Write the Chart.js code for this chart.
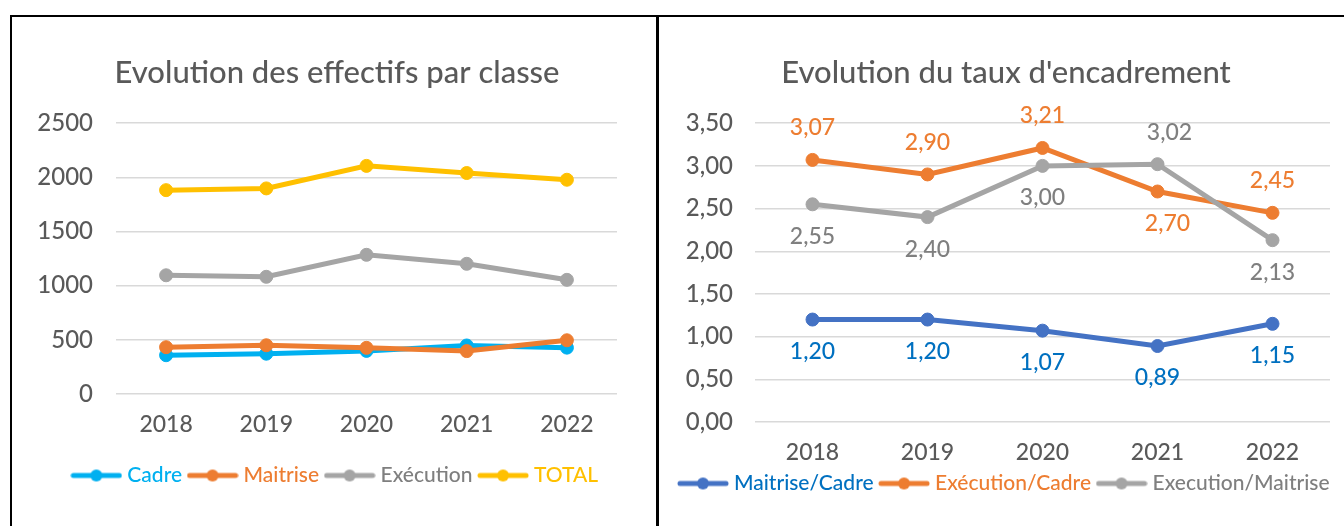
<!DOCTYPE html>
<html>
<head>
<meta charset="utf-8">
<script src="https://cdn.jsdelivr.net/npm/chart.js@4"></script>
<style>
  html, body { margin: 0; padding: 0; background: #fff; overflow: hidden; width: 1344px; height: 526px; }
  #frame { position: absolute; left: 10px; top: 15px; width: 1400px; height: 600px; border: 2px solid #000; box-sizing: border-box; }
  #sep { position: absolute; left: 656px; top: 15px; width: 3px; height: 600px; background: #000; }
  .box { position: absolute; top: 17px; height: 509px; }
  #leftBox { left: 12px; width: 644px; }
  #rightBox { left: 660px; width: 684px; }
</style>
</head>
<body>
<div id="frame"></div>
<div id="sep"></div>
<div class="box" id="leftBox"><canvas id="effectifs"></canvas></div>
<div class="box" id="rightBox"><canvas id="taux"></canvas></div>
<script>
// données
const years = ["2018", "2019", "2020", "2021", "2022"];
const cadre = [358, 372, 398, 448, 428];
const maitrise = [432, 450, 426, 396, 496];
const execution = [1096, 1082, 1285, 1202, 1054];
const total = [1882, 1898, 2106, 2040, 1978];

const maitriseCadre = [1.20, 1.20, 1.07, 0.89, 1.15];
const executionCadre = [3.07, 2.90, 3.21, 2.70, 2.45];
const executionMaitrise = [2.55, 2.40, 3.00, 3.02, 2.13];

const FONT = "Lato";
const WEIGHT = 500;
const GREY_TXT = "#595959";

const fmt = (v) => v.toFixed(2).replace(".", ",");

// petit trait + rond pour la légende
function swatch(color) {
  const c = document.createElement("canvas");
  c.width = 52;
  c.height = 14;
  const g = c.getContext("2d");
  g.strokeStyle = color;
  g.lineWidth = 5;
  g.lineCap = "round";
  g.beginPath();
  g.moveTo(3, 7);
  g.lineTo(49, 7);
  g.stroke();
  g.fillStyle = color;
  g.beginPath();
  g.arc(26, 7, 6, 0, Math.PI * 2);
  g.fill();
  return c;
}

function legendItems(chart) {
  return chart.data.datasets.map((ds, i) => ({
    text: ds.label,
    fillStyle: ds.borderColor,
    strokeStyle: ds.borderColor,
    fontColor: ds.legendColor,
    pointStyle: swatch(ds.borderColor),
    lineWidth: 0,
    hidden: false,
    datasetIndex: i,
  }));
}

function line(label, data, color, legendColor, order) {
  return {
    label,
    data,
    borderColor: color,
    backgroundColor: color,
    legendColor,
    borderWidth: 5,
    pointRadius: 6.5,
    pointBorderWidth: 1,
    tension: 0,
    order,
  };
}

// étiquettes de valeurs (pas de plugin datalabels dispo)
const LABEL_POS = {
  "Maitrise/Cadre": ["below", "below", "below", "below", "below"],
  "Exécution/Cadre": ["above", "above", "above", "below", "above"],
  "Execution/Maitrise": ["below", "below", "below", "above", "below"],
};
const LABEL_DX = {
  "Maitrise/Cadre": [0, 0, 0, 0, 0],
  "Exécution/Cadre": [0, 0, 0, 10, 0],
  "Execution/Maitrise": [0, 0, 0, 12, 0],
};

const valueLabels = {
  id: "valueLabels",
  afterDatasetsDraw(chart) {
    const ctx = chart.ctx;
    chart.data.datasets.forEach((ds, i) => {
      const pos = LABEL_POS[ds.label];
      if (!pos) return;
      const meta = chart.getDatasetMeta(i);
      ctx.save();
      ctx.font = WEIGHT + " 23px " + FONT;
      ctx.fillStyle = ds.legendColor;
      ctx.textAlign = "center";
      ctx.textBaseline = "middle";
      meta.data.forEach((pt, j) => {
        const dy = pos[j] === "above" ? -32 : 32;
        ctx.fillText(fmt(ds.data[j]), pt.x + LABEL_DX[ds.label][j], pt.y + dy);
      });
      ctx.restore();
    });
  },
};

function baseOptions(cfg) {
  return {
    responsive: true,
    maintainAspectRatio: false,
    animation: false,
    layout: { padding: { left: cfg.padLeft, right: 0, top: 0, bottom: cfg.padBottom } },
    plugins: {
      title: {
        display: true,
        text: cfg.title,
        color: GREY_TXT,
        font: { family: FONT, size: 31, weight: WEIGHT },
        padding: { top: 37, bottom: 32 },
      },
      legend: {
        position: "bottom",
        labels: {
          usePointStyle: true,
          pointStyleWidth: 41,
          padding: 10,
          font: { family: FONT, size: 21, weight: WEIGHT },
          generateLabels: legendItems,
        },
      },
      tooltip: { enabled: false },
    },
    scales: {
      x: {
        offset: true,
        grid: { display: false, drawTicks: false },
        border: { display: false },
        ticks: { color: GREY_TXT, font: { family: FONT, size: 23, weight: WEIGHT }, padding: 17 },
        afterFit: (s) => { s.height = cfg.xHeight; },
      },
      y: {
        min: 0,
        max: cfg.max,
        grid: { color: "#D9D9D9", lineWidth: 1.5, drawTicks: false },
        border: { display: false },
        ticks: {
          stepSize: cfg.step,
          color: GREY_TXT,
          padding: cfg.tickPad,
          font: { family: FONT, size: 24, weight: WEIGHT },
          callback: cfg.fmt,
        },
        afterFit: (s) => { s.width = cfg.yWidth; },
      },
      pad: {
        type: "linear",
        position: "right",
        grid: { display: false },
        border: { display: false },
        ticks: { display: false },
        afterFit: (s) => { s.width = cfg.rightGap; },
      },
    },
  };
}

new Chart(document.getElementById("effectifs"), {
  type: "line",
  data: {
    labels: years,
    datasets: [
      line("Cadre", cadre, "#00B0F0", "#00B0F0", 4),
      line("Maitrise", maitrise, "#ED7D31", "#ED7D31", 3),
      line("Exécution", execution, "#A5A5A5", "#7F7F7F", 2),
      line("TOTAL", total, "#FFC000", "#FFC000", 1),
    ],
  },
  options: baseOptions({
    title: "Evolution des effectifs par classe",
    padLeft: 6, padBottom: 30, xHeight: 61,
    max: 2500, step: 500, tickPad: 23, yWidth: 98, rightGap: 39,
    fmt: (v) => v,
  }),
});

new Chart(document.getElementById("taux"), {
  type: "line",
  data: {
    labels: years,
    datasets: [
      line("Maitrise/Cadre", maitriseCadre, "#4472C4", "#0070C0", 3),
      line("Exécution/Cadre", executionCadre, "#ED7D31", "#ED7D31", 2),
      line("Execution/Maitrise", executionMaitrise, "#A5A5A5", "#7F7F7F", 1),
    ],
  },
  options: baseOptions({
    title: "Evolution du taux d'encadrement",
    padLeft: 8, padBottom: 22, xHeight: 41,
    max: 3.5, step: 0.5, tickPad: 22, yWidth: 87, rightGap: 14,
    fmt: (v) => fmt(v),
  }),
  plugins: [valueLabels],
});
</script>
</body>
</html>
